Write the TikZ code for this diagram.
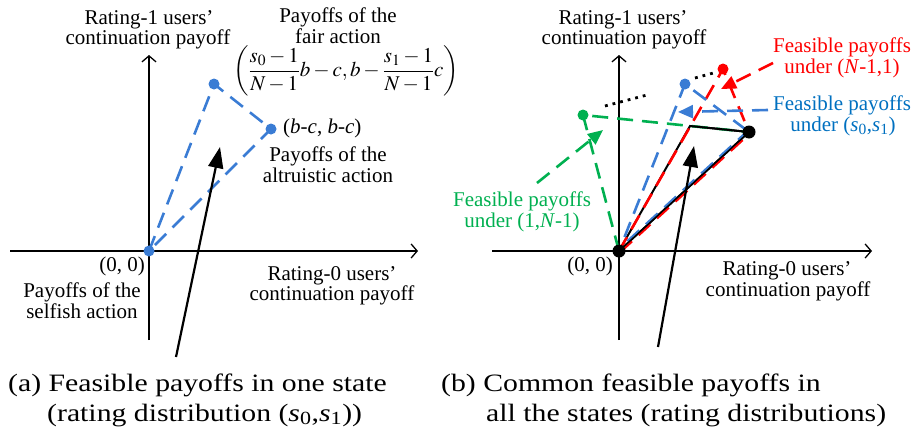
\documentclass[tikz,border=0pt]{standalone}
\usepackage{mathptmx}
\usepackage{graphicx}
\usepackage{fontspec}
\setmainfont{Liberation Serif}
\usetikzlibrary{arrows.meta}
\definecolor{bl}{RGB}{58,124,212}
\definecolor{blt}{RGB}{0,112,192}
\definecolor{rd}{RGB}{255,0,0}
\definecolor{gn}{RGB}{0,176,80}
\tikzset{
  lbl/.style={anchor=base, inner sep=0pt, font=\fontsize{21}{22}\selectfont},
  captxt/.style={anchor=base west, inner sep=0pt, font=\fontsize{25}{30}\selectfont},
  axis/.style={line width=1.3pt, -{Straight Barb[length=6pt,width=14pt,line width=1.3pt]}},
  tri/.style={line width=2.6pt, dash pattern=on 16pt off 9pt},
  bigarrow/.style={line width=2.2pt, -{Triangle[length=21pt,width=15pt]}},
  carrow/.style={line width=2.6pt, dash pattern=on 16pt off 9pt, -{Triangle[length=15pt,width=13pt]}},
  dots/.style={line width=2.8pt, dash pattern=on 2.8pt off 5pt},
  blk/.style={line width=2pt}
}
\begin{document}
\begin{tikzpicture}[x=1pt,y=-1pt]
\useasboundingbox (0,0) rectangle (916,434);
% ---------------- left panel ----------------
\coordinate (O1) at (149,251);
\coordinate (F1) at (214,84);
\coordinate (A1) at (271,129);
\coordinate (xl0) at (10,251);
\coordinate (xl1) at (418,251);
\coordinate (yl0) at (149,340);
\coordinate (yl1) at (149,55);
\draw[axis] (xl0) -- (xl1);
\draw[axis] (yl0) -- (yl1);
\draw[tri, bl] (O1) -- (F1) -- (A1) -- (O1);
\fill[bl] (O1) circle (5.5);
\fill[bl] (F1) circle (5.5);
\fill[bl] (A1) circle (5.5);
\coordinate (ar1s) at (176,357);
\coordinate (ar1e) at (220,147);
\draw[bigarrow] (ar1s) -- (ar1e);

\node[lbl] (l1a) at (149,24) {Rating-1 users’};
\node[lbl] (l1b) at (148,44) {continuation payoff};
\node[lbl] (lfa) at (338,22) {Payoffs of the};
\node[lbl] (lfb) at (338,43) {fair action};
\node[inner sep=0pt, font=\fontsize{21}{22}\selectfont] (lff) at (346,71)
  {$\displaystyle\left(\frac{s_0-1}{N-1}b-c,b-\frac{s_1-1}{N-1}c\right)$};
\node[lbl, anchor=base west] (lbc) at (283,133) {(\textit{b}-\textit{c}, \textit{b}-\textit{c})};
\node[lbl] (laa) at (328,161) {Payoffs of the};
\node[lbl] (lab) at (328,182) {altruistic action};
\node[lbl, anchor=base east] (l00) at (145,271) {(0, 0)};
\node[lbl] (lsa) at (82,297) {Payoffs of the};
\node[lbl] (lsb) at (82,318) {selfish action};
\node[lbl] (l0a) at (332,280) {Rating-0 users’};
\node[lbl] (l0b) at (332,300) {continuation payoff};

\node[captxt] (ca1) at (8,391) {\scalebox{1.19}[1]{(a) Feasible payoffs in one state}};
\node[captxt] (ca2) at (47,421) {\scalebox{1.19}[1]{(rating distribution (\textit{s}\textsubscript{0},\textit{s}\textsubscript{1}))}};

% ---------------- right panel ----------------
\coordinate (O2) at (619,251);
\coordinate (K) at (749,132);
\coordinate (G) at (583,115);
\coordinate (B) at (685,84);
\coordinate (R) at (723,69);
\coordinate (X) at (690,126);
\coordinate (xr0) at (492,251);
\coordinate (xr1) at (872,251);
\coordinate (yr0) at (619,340);
\coordinate (yr1) at (619,55);
\draw[axis] (xr0) -- (xr1);
\draw[axis] (yr0) -- (yr1);

\draw[blk] (O2) -- (X) -- (K);
\draw[tri, gn] (O2) -- (G) -- (K);
\draw[tri, rd] (O2) -- (R) -- (K);
\draw[tri, bl, dash phase=10pt] (O2) -- (B) -- (K);
\draw[blk] (O2) -- (K);
\draw[tri, rd, line width=2.2pt, transform canvas={shift={(1.2pt,-1.2pt)}}] (O2) -- (K);
\draw[tri, bl, line width=2.2pt, dash phase=12pt, transform canvas={shift={(-1.2pt,1.2pt)}}] (O2) -- (K);
\draw[blk, line width=1.4pt] (O2) -- (K);
\draw[blk] (X) -- (K);

\coordinate (d1s) at (605,106);
\coordinate (d1e) at (647,95);
\coordinate (d2s) at (695,78);
\coordinate (d2e) at (717,72);
\draw[dots] (d1s) -- (d1e);
\draw[dots] (d2s) -- (d2e);

\fill[gn] (G) circle (5.5);
\fill[bl] (B) circle (5.5);
\fill[rd] (R) circle (5.5);
\fill (O2) circle (6.5);
\fill (K) circle (6.5);

\coordinate (ars) at (773,63);
\coordinate (are) at (721,89);
\coordinate (abs) at (768,110);
\coordinate (abe) at (678,112);
\coordinate (ags) at (537,183);
\coordinate (age) at (603,130);
\coordinate (ar2s) at (658,347);
\coordinate (ar2e) at (694,146);
\draw[carrow, rd] (ars) -- (are);
\draw[carrow, bl] (abs) -- (abe);
\draw[carrow, gn] (ags) -- (age);
\draw[bigarrow] (ar2s) -- (ar2e);

\node[lbl] (r1a) at (623,24) {Rating-1 users’};
\node[lbl] (r1b) at (624,44) {continuation payoff};
\node[lbl, text=rd] (rra) at (842,52) {Feasible payoffs};
\node[lbl, text=rd] (rrb) at (842,73) {under (\textit{N}-1,1)};
\node[lbl, text=blt] (rba) at (842,110) {Feasible payoffs};
\node[lbl, text=blt] (rbb) at (843,131) {under (\textit{s}\textsubscript{0},\textit{s}\textsubscript{1})};
\node[lbl, text=gn] (rga) at (522,206) {Feasible payoffs};
\node[lbl, text=gn] (rgb) at (522,227) {under (1,\textit{N}-1)};
\node[lbl, anchor=base east] (r00) at (613,271) {(0, 0)};
\node[lbl] (r0a) at (787,275) {Rating-0 users’};
\node[lbl] (r0b) at (788,296) {continuation payoff};

\node[captxt] (cb1) at (441,391) {\scalebox{1.19}[1]{(b) Common feasible payoffs in}};
\node[captxt] (cb2) at (486,421) {\scalebox{1.19}[1]{all the states (rating distributions)}};
\end{tikzpicture}
\end{document}
